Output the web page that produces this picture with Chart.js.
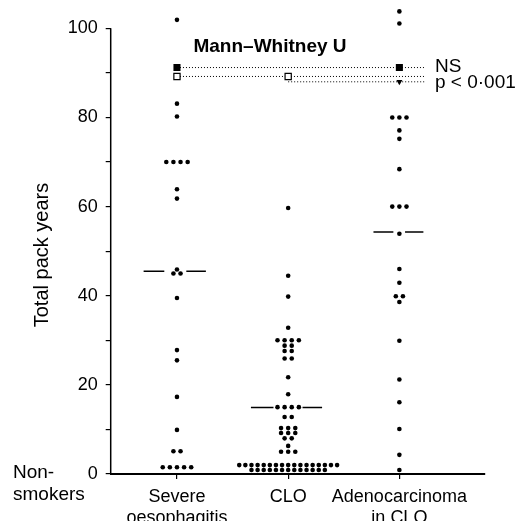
<!DOCTYPE html>
<html>
<head>
<meta charset="utf-8">
<script src="https://cdn.jsdelivr.net/npm/chart.js@4/dist/chart.umd.min.js"></script>
<style>
  body { margin: 0; background: #fff; }
  #box { width: 524px; height: 521px; }
</style>
</head>
<body>
<div id="box"><canvas id="packs"></canvas></div>
<script>
// categories and values
const groups = ["Severe oesophagitis", "CLO", "Adenocarcinoma in CLO"];
const groupLabels = [["Severe", "oesophagitis"], ["CLO"], ["Adenocarcinoma", "in CLO"]];

const severeVals = [101.9, 83.1, 80.2, 70, 70, 70, 70, 63.9, 61.8, 45.9, 45, 45, 39.5,
  27.8, 25.5, 17.3, 9.9, 5.1, 5.1, 1.5, 1.5, 1.5, 1.5, 1.5];
const cloVals = [59.7, 44.5, 39.8, 32.8, 30, 30, 30, 30, 28.8, 28.8, 27.6, 27.6, 25.9, 25.9,
  21.7, 17.9, 15, 15, 15, 15, 12.8, 12.8, 10.3, 10.3, 10.3, 9.2, 9.2, 9.2, 8, 8, 6.3, 5, 5, 5,
  2, 2, 2, 2, 2, 2, 2, 2, 2, 2, 2, 2, 2, 2, 2, 2, 2,
  0.9, 0.9, 0.9, 0.9, 0.9, 0.9, 0.9, 0.9, 0.9, 0.9, 0.9, 0.9, 0.9];
const adenoVals = [103.8, 101.1, 80, 80, 80, 77.1, 75.2, 68.4, 60, 60, 60, 53.9, 46, 42.9,
  39.9, 39.9, 38.6, 29.9, 21.2, 16.1, 10.1, 4.3, 0.9];

const medians = [45.5, 14.9, 54.3];

// Mann-Whitney U markers
const mwFilledCat = [1, 3];
const mwFilledVal = [91.2, 91.2];
const mwOpenCat = [1, 2];
const mwOpenVal = [89.2, 89.2];
const mwTriCat = [3];
const mwTriVal = [88.0];
const mwLineFrom = [1, 1, 2];
const mwLineVal = [91.2, 89.2, 88.0];

const yTicks = [0, 20, 40, 60, 80, 100];

// spread equal values sideways like the dot plot
function spread(vals, cat) {
  const counts = {};
  vals.forEach(v => counts[v] = (counts[v] || 0) + 1);
  const seen = {};
  return vals.map(v => {
    const n = counts[v];
    const i = seen[v] = (seen[v] === undefined ? 0 : seen[v] + 1);
    const gap = n > 8 ? 0.055 : 0.064;
    return { x: cat + (i - (n - 1) / 2) * gap, y: v };
  });
}

// median bars, broken around the dots
const medianGaps = [[0.70, 0.886, 1.084, 1.26], [1.665, 1.868, 2.129, 2.305], [2.767, 2.946, 3.051, 3.216]];
function medianLine(k) {
  const g = medianGaps[k], m = medians[k];
  return [{x: g[0], y: m}, {x: g[1], y: m}, {x: (g[1] + g[2]) / 2, y: null}, {x: g[2], y: m}, {x: g[3], y: m}];
}

const dotStyle = { type: 'scatter', pointRadius: 2.3, pointBackgroundColor: '#000', pointBorderWidth: 0, order: 1, clip: false };

const datasets = [
  Object.assign({ data: spread(severeVals, 1) }, dotStyle),
  Object.assign({ data: spread(cloVals, 2) }, dotStyle),
  Object.assign({ data: spread(adenoVals, 3) }, dotStyle),
];
medians.forEach((m, k) => datasets.push({
  type: 'line', data: medianLine(k), borderColor: '#000', borderWidth: 1.5,
  pointRadius: 0, spanGaps: false, order: 4
}));
mwLineVal.forEach((v, k) => datasets.push({
  type: 'line', data: [{x: mwLineFrom[k], y: v}, {x: 3.23, y: v}], borderColor: '#000',
  borderWidth: 1, borderDash: [1, 2], pointRadius: 0, order: 5
}));
datasets.push({
  type: 'scatter', data: mwFilledCat.map((c, i) => ({x: c, y: mwFilledVal[i]})),
  pointStyle: 'rect', pointRadius: 5, pointBackgroundColor: '#000', pointBorderWidth: 0, order: 0
});
datasets.push({
  type: 'scatter', data: mwOpenCat.map((c, i) => ({x: c, y: mwOpenVal[i]})),
  pointStyle: 'rect', pointRadius: 4.4, pointBackgroundColor: '#fff', pointBorderColor: '#000', pointBorderWidth: 1.2, order: 0
});
datasets.push({
  type: 'scatter', data: mwTriCat.map((c, i) => ({x: c, y: mwTriVal[i]})),
  pointStyle: 'triangle', rotation: 180, pointRadius: 3.5, pointBackgroundColor: '#000', pointBorderWidth: 0, order: 0
});

const FONT = '"Liberation Sans", Arial, sans-serif';

const extras = {
  id: 'extras',
  afterDraw(chart) {
    const ctx = chart.ctx, x = chart.scales.x, y = chart.scales.y;
    ctx.save();
    ctx.strokeStyle = '#000';
    ctx.lineWidth = 1.5;
    ctx.beginPath();
    ctx.moveTo(x.left, y.getPixelForValue(0));
    ctx.lineTo(x.left, y.getPixelForValue(100));
    ctx.stroke();

    ctx.fillStyle = '#000';
    ctx.font = '19px ' + FONT;
    ctx.textAlign = 'left';
    ctx.textBaseline = 'middle';
    ctx.fillText('Non-', 13, y.getPixelForValue(0) - 1);
    ctx.fillText('smokers', 13, y.getPixelForValue(0) + 21);

    ctx.font = '19px ' + FONT;
    ctx.fillText('NS', 435, y.getPixelForValue(mwLineVal[0]) - 1);
    ctx.fillText('p < 0\u00b7001', 435, y.getPixelForValue(mwLineVal[2]) + 1);

    ctx.font = 'bold 19px ' + FONT;
    ctx.textAlign = 'center';
    ctx.fillText('Mann\u2013Whitney U', 270, 47);

    ctx.font = '20px ' + FONT;
    ctx.translate(42, 255);
    ctx.rotate(-Math.PI / 2);
    ctx.fillText('Total pack years', 0, 0);
    ctx.restore();
  }
};

new Chart(document.getElementById('packs'), {
  type: 'scatter',
  data: { datasets: datasets },
  plugins: [extras],
  options: {
    responsive: true,
    maintainAspectRatio: false,
    animation: false,
    layout: { padding: { right: 39, top: 0, left: 0, bottom: 0 } },
    plugins: { legend: { display: false }, tooltip: { enabled: false } },
    scales: {
      x: {
        type: 'linear', min: 0.404, max: 3.77,
        afterBuildTicks: s => { s.ticks = [1, 2, 3].map(v => ({ value: v })); },
        afterFit: s => { s.height = 47; s.paddingLeft = 0; s.paddingRight = 0; },
        ticks: {
          autoSkip: false, maxRotation: 0, padding: 7, color: '#000',
          font: { size: 18, family: FONT },
          callback: v => groupLabels[Math.round(v) - 1]
        },
        grid: { drawOnChartArea: false, tickLength: 5, color: '#000', lineWidth: 1.2 },
        border: { display: true, color: '#000', width: 2 }
      },
      y: {
        min: 0, max: 105.1,
        afterFit: s => { s.width = 110.7; s.paddingTop = 0; s.paddingBottom = 0; },
        ticks: {
          stepSize: 10, includeBounds: false, padding: 8, color: '#000',
          font: { size: 18, family: FONT },
          callback: v => yTicks.includes(v) ? String(v) : ''
        },
        grid: { drawOnChartArea: false, tickLength: 5, color: '#000', lineWidth: 1.2 },
        border: { display: false }
      }
    }
  }
});
</script>
</body>
</html>
